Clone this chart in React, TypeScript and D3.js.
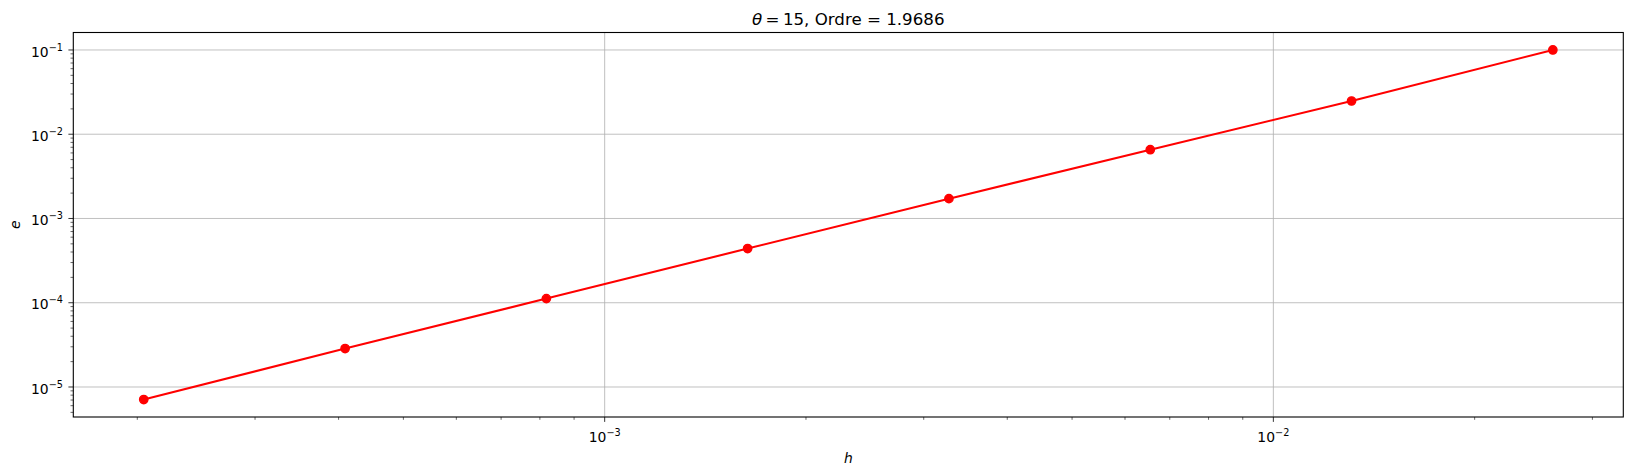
import React, { useEffect, useRef } from 'react';
import * as d3 from 'd3';

// mesh step and error
const stepH = [2.045e-4, 4.091e-4, 8.181e-4, 1.636e-3, 3.272e-3, 6.545e-3, 1.309e-2, 2.618e-2];
const errE = [7.1e-6, 2.86e-5, 1.12e-4, 4.4e-4, 1.72e-3, 6.55e-3, 2.48e-2, 1.0e-1];
const theta = 15;
const ordre = 1.9686;

const W = 1632;
const H = 476;
const FONT = 'DejaVu Sans, sans-serif';

const App: React.FC = () => {
  const svgRef = useRef<SVGSVGElement>(null);

  useEffect(() => {
    if (!svgRef.current) return;
    const svg = d3.select(svgRef.current);
    svg.selectAll('*').remove();

    const left = 73.3, right = 1623.3, top = 32.5, bottom = 417;

    // matplotlib-like 5% margins in log space
    const pad = (vals: number[]) => {
      const lo = Math.log10(d3.min(vals)!);
      const hi = Math.log10(d3.max(vals)!);
      const m = (hi - lo) * 0.05;
      return [Math.pow(10, lo - m), Math.pow(10, hi + m)];
    };

    const x = d3.scaleLog().domain(pad(stepH)).range([left, right]);
    const y = d3.scaleLog().domain(pad(errE)).range([bottom, top]);

    const majors = (s: d3.ScaleLogarithmic<number, number>) => {
      const [a, b] = s.domain();
      const out: number[] = [];
      for (let k = Math.floor(Math.log10(a)); k <= Math.ceil(Math.log10(b)); k++) {
        const v = Math.pow(10, k);
        if (v >= a && v <= b) out.push(k);
      }
      return out;
    };
    const minors = (s: d3.ScaleLogarithmic<number, number>) => {
      const [a, b] = s.domain();
      const out: number[] = [];
      for (let k = Math.floor(Math.log10(a)); k <= Math.ceil(Math.log10(b)); k++) {
        for (let m = 2; m <= 9; m++) {
          const v = m * Math.pow(10, k);
          if (v >= a && v <= b) out.push(v);
        }
      }
      return out;
    };

    const xMaj = majors(x);
    const yMaj = majors(y);

    // grid
    const grid = svg.append('g').attr('stroke', '#b0b0b0').attr('stroke-width', 0.8);
    xMaj.forEach(k => {
      const px = x(Math.pow(10, k));
      grid.append('line').attr('x1', px).attr('x2', px).attr('y1', top).attr('y2', bottom);
    });
    yMaj.forEach(k => {
      const py = y(Math.pow(10, k));
      grid.append('line').attr('x1', left).attr('x2', right).attr('y1', py).attr('y2', py);
    });

    // data line + markers
    const pts = stepH.map((h, i) => [h, errE[i]] as [number, number]);
    const line = d3.line<[number, number]>().x(d => x(d[0])).y(d => y(d[1]));
    svg.append('path')
      .attr('d', line(pts) || '')
      .attr('fill', 'none')
      .attr('stroke', '#ff0000')
      .attr('stroke-width', 2.08);
    svg.append('g').selectAll('circle')
      .data(pts)
      .join('circle')
      .attr('cx', d => x(d[0]))
      .attr('cy', d => y(d[1]))
      .attr('r', 4.17)
      .attr('fill', '#ff0000')
      .attr('stroke', '#ff0000')
      .attr('stroke-width', 1.39);

    // spines
    svg.append('rect')
      .attr('x', left).attr('y', top)
      .attr('width', right - left).attr('height', bottom - top)
      .attr('fill', 'none').attr('stroke', '#000').attr('stroke-width', 1.1);

    // ticks
    const tk = svg.append('g').attr('stroke', '#000').attr('stroke-width', 0.8);
    xMaj.forEach(k => {
      const px = x(Math.pow(10, k));
      tk.append('line').attr('x1', px).attr('x2', px).attr('y1', bottom).attr('y2', bottom + 4.9);
    });
    minors(x).forEach(v => {
      const px = x(v);
      tk.append('line').attr('x1', px).attr('x2', px).attr('y1', bottom).attr('y2', bottom + 2.8).attr('stroke-width', 0.6);
    });
    yMaj.forEach(k => {
      const py = y(Math.pow(10, k));
      tk.append('line').attr('x1', left).attr('x2', left - 4.9).attr('y1', py).attr('y2', py);
    });
    minors(y).forEach(v => {
      const py = y(v);
      tk.append('line').attr('x1', left).attr('x2', left - 2.8).attr('y1', py).attr('y2', py).attr('stroke-width', 0.6);
    });

    const powLabel = (g: d3.Selection<SVGTextElement, unknown, null, undefined>, k: number) => {
      g.append('tspan').text('10');
      g.append('tspan')
        .attr('dy', -6)
        .attr('font-size', 9.7)
        .text(`\u2212${Math.abs(k)}`);
    };

    xMaj.forEach(k => {
      const t = svg.append('text')
        .attr('x', x(Math.pow(10, k)))
        .attr('y', 442.3)
        .attr('text-anchor', 'middle')
        .attr('font-family', FONT)
        .attr('font-size', 13.9)
        .attr('fill', '#000');
      powLabel(t as any, k);
    });
    yMaj.forEach(k => {
      const t = svg.append('text')
        .attr('x', 63)
        .attr('y', y(Math.pow(10, k)) + 6.7)
        .attr('text-anchor', 'end')
        .attr('font-family', FONT)
        .attr('font-size', 13.9)
        .attr('fill', '#000');
      powLabel(t as any, k);
    });

    // axis labels
    svg.append('text')
      .attr('x', (left + right) / 2)
      .attr('y', 463)
      .attr('text-anchor', 'middle')
      .attr('font-family', FONT)
      .attr('font-style', 'italic')
      .attr('font-size', 13.9)
      .text('h');
    svg.append('text')
      .attr('transform', `translate(19.5,${(top + bottom) / 2}) rotate(-90)`)
      .attr('text-anchor', 'middle')
      .attr('font-family', FONT)
      .attr('font-style', 'italic')
      .attr('font-size', 13.9)
      .text('e');

    // title
    const title = svg.append('text')
      .attr('x', (left + right) / 2)
      .attr('y', 24.5)
      .attr('text-anchor', 'middle')
      .attr('font-family', FONT)
      .attr('font-size', 16.67)
      .attr('fill', '#000');
    title.append('tspan').attr('font-style', 'italic').text('\u03b8');
    title.append('tspan').text(`\u2009=\u2009${theta}, Ordre = ${ordre}`);
  }, []);

  return (
    <svg
      ref={svgRef}
      width={W}
      height={H}
      style={{ position: 'absolute', left: 0, top: 0, background: '#fff' }}
    />
  );
};

export default App;
